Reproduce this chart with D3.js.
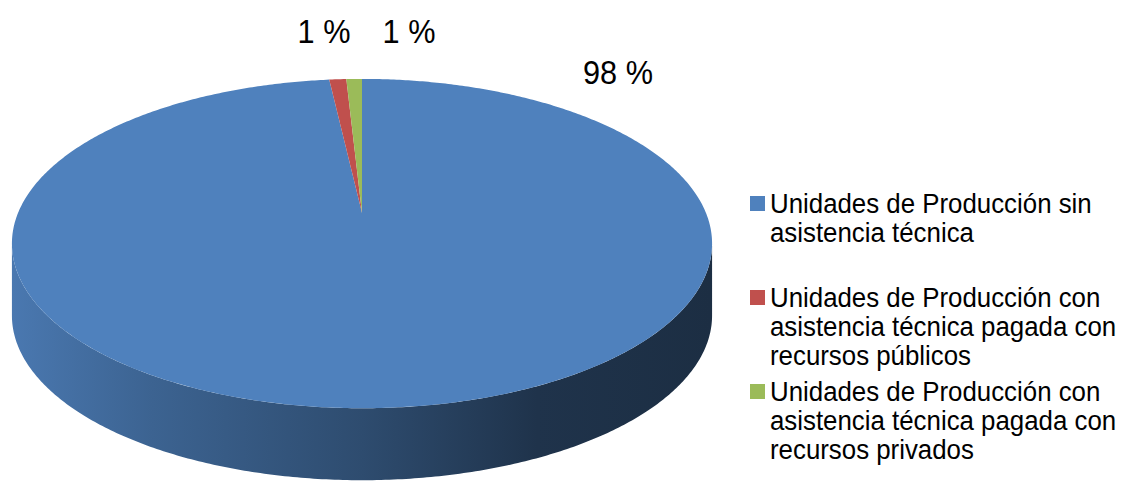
<!DOCTYPE html>
<meta charset="utf-8">
<style>
body { margin: 0; background: #fff; }
svg { display: block; font-family: Arial, "Liberation Sans", Helvetica, sans-serif; }
.legend text { font-size: 27.5px; fill: #000; }
.pct { font-size: 33px; fill: #000; text-anchor: middle; }
</style>
<body>
<script src="https://cdn.jsdelivr.net/npm/d3@7"></script>
<script>

// data
var categories = [
  "Unidades de Producción sin asistencia técnica",
  "Unidades de Producción con asistencia técnica pagada con recursos públicos",
  "Unidades de Producción con asistencia técnica pagada con recursos privados"
];
var legendLines = [
  ["Unidades de Producción sin", "asistencia técnica"],
  ["Unidades de Producción con", "asistencia técnica pagada con", "recursos públicos"],
  ["Unidades de Producción con", "asistencia técnica pagada con", "recursos privados"]
];
var values = [98.2, 0.94, 0.86];
var colors = ["#4f81bd", "#c0504d", "#9bbb59"];

var width = 1122, height = 485;

// pie geometry (tilted disc, slight perspective)
var cx = 362, cy = 213, rx = 344, ry = 159, k = 0.1855, depth = 72;

function proj(a, dy) {
  var u = Math.sin(a), v = -Math.cos(a), s = 1 - k * v;
  return [cx + rx * u / s, cy + ry * v / s + (dy || 0)];
}

function arcPoints(a0, a1, dy) {
  var n = Math.max(2, Math.ceil(Math.abs(a1 - a0) / 0.01));
  var pts = [];
  for (var i = 0; i <= n; i++) pts.push(proj(a0 + (a1 - a0) * i / n, dy));
  return pts;
}

var line = d3.line();

var svg = d3.select("body").append("svg")
    .attr("width", width)
    .attr("height", height);

var pie = d3.pie().sort(null).value(function(d) { return d; });
var arcs = pie(values);

var defs = svg.append("defs");

// visible front half of the side wall
var aRight = Math.acos(-k), aLeft = 2 * Math.PI - Math.acos(-k);
var xL = proj(aLeft)[0], xR = proj(aRight)[0];

arcs.forEach(function(d, i) {
  var c = d3.color(colors[i]);
  var g = defs.append("linearGradient")
      .attr("id", "side" + i)
      .attr("gradientUnits", "userSpaceOnUse")
      .attr("x1", xL).attr("x2", xR).attr("y1", 0).attr("y2", 0);
  [[0, 0.2], [0.2, 0.75], [0.5, 1.5], [0.75, 2.6], [1, 2.9]].forEach(function(s) {
    g.append("stop").attr("offset", s[0]).attr("stop-color", c.darker(s[1]).formatHex());
  });
});

var sides = svg.append("g").attr("class", "sides");
arcs.forEach(function(d, i) {
  var a0 = Math.max(d.startAngle, aRight), a1 = Math.min(d.endAngle, aLeft);
  if (a1 <= a0) return;
  var top = arcPoints(a0, a1, 0);
  var bottom = arcPoints(a1, a0, depth);
  sides.append("path")
      .attr("d", line(top.concat(bottom)) + "Z")
      .attr("fill", "url(#side" + i + ")");
});

var tops = svg.append("g").attr("class", "tops");
tops.selectAll("path")
    .data(arcs)
  .enter().append("path")
    .attr("d", function(d) {
      return line([[cx, cy]].concat(arcPoints(d.startAngle, d.endAngle, 0))) + "Z";
    })
    .attr("fill", function(d, i) { return colors[i]; });

// percentage labels
var total = d3.sum(values);
var labelPos = [[618, 84], [324, 43], [409, 43]];
svg.append("g").selectAll("text")
    .data(arcs)
  .enter().append("text")
    .attr("class", "pct")
    .attr("transform", function(d, i) { return "translate(" + labelPos[i] + ") scale(0.93,1)"; })
    .text(function(d) { return Math.round(d.value / total * 100) + " %"; });

// legend
var legendY = [213, 307, 401], lineH = 29;
var legend = svg.append("g").attr("class", "legend")
  .selectAll("g")
    .data(categories)
  .enter().append("g")
    .attr("transform", function(d, i) { return "translate(750," + legendY[i] + ")"; });

legend.append("rect")
    .attr("x", 0).attr("y", -17)
    .attr("width", 15).attr("height", 15)
    .attr("fill", function(d, i) { return colors[i]; });

legend.each(function(d, i) {
  var t = d3.select(this).append("text")
      .attr("transform", "translate(20,0) scale(0.94,1)");
  legendLines[i].forEach(function(l, j) {
    t.append("tspan").attr("x", 0).attr("y", j * lineH).text(l);
  });
});

</script>
</body>
